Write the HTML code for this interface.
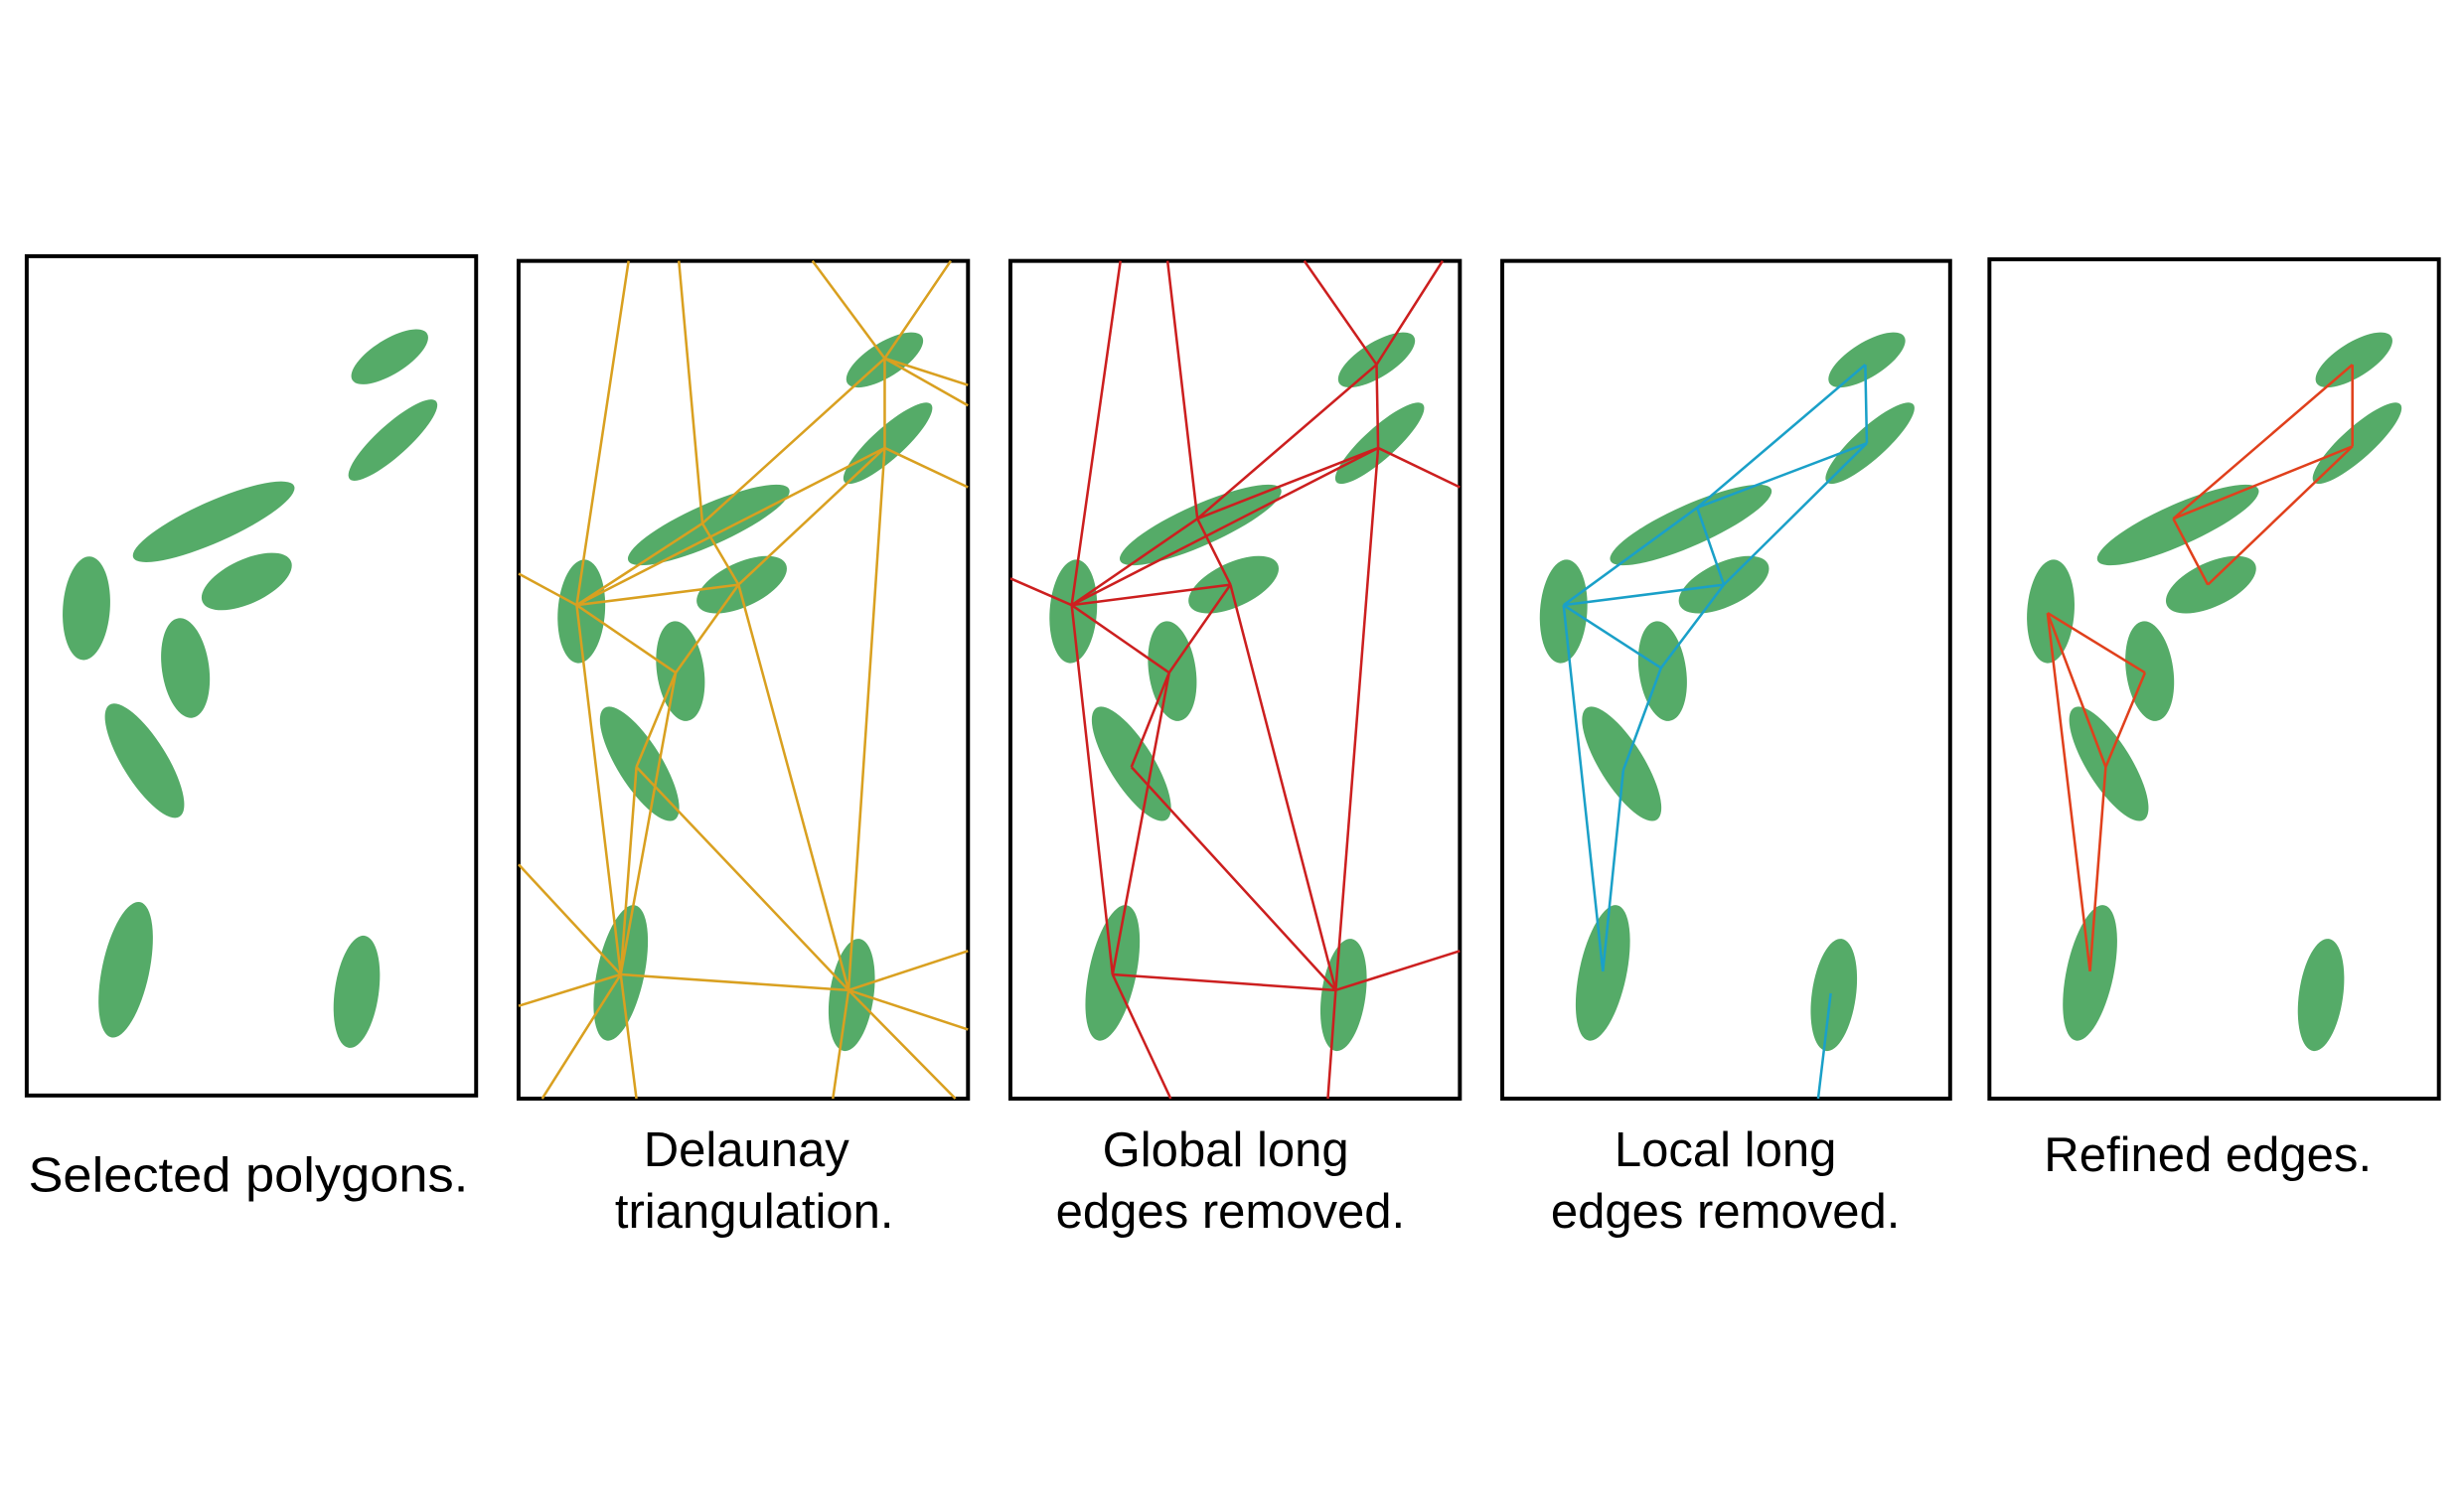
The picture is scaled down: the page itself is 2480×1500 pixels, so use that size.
<!DOCTYPE html>
<html><head><meta charset="utf-8"><style>
html,body{margin:0;padding:0;background:#fff;}
svg{display:block;}
</style></head><body>
<svg width="2480" height="1500" viewBox="0 0 1568 948" preserveAspectRatio="none" xmlns="http://www.w3.org/2000/svg">
<defs>
<g id="blobs" fill="#55ab68">
  <ellipse cx="0" cy="0" rx="28" ry="11" transform="translate(248,227) rotate(-32)"/>
  <ellipse cx="0" cy="0" rx="37" ry="10" transform="translate(250,280) rotate(-42)"/>
  <ellipse cx="0" cy="0" rx="56" ry="13" transform="translate(136,332) rotate(-24)"/>
  <ellipse cx="0" cy="0" rx="15" ry="33" transform="translate(55,387) rotate(4)"/>
  <ellipse cx="0" cy="0" rx="31" ry="14" transform="translate(157,370) rotate(-25)"/>
  <ellipse cx="0" cy="0" rx="15" ry="32" transform="translate(118,425) rotate(-8)"/>
  <ellipse cx="0" cy="0" rx="14" ry="42" transform="translate(92,484) rotate(-32)"/>
  <ellipse cx="0" cy="0" rx="15" ry="44" transform="translate(80,617) rotate(12)"/>
  <ellipse cx="0" cy="0" rx="14" ry="36" transform="translate(227,631) rotate(8)"/>
</g>
</defs>
<g fill="none" stroke="#000" stroke-width="2.5">
  <rect x="17" y="163" width="286" height="534"/>
  <rect x="330" y="166" width="286" height="533"/>
  <rect x="643" y="166" width="286" height="533"/>
  <rect x="956" y="166" width="285" height="533"/>
  <rect x="1266" y="165" width="286" height="534"/>
</g>
<use href="#blobs"/>
<use href="#blobs" transform="translate(315,2)"/>
<use href="#blobs" transform="translate(628,2)"/>
<use href="#blobs" transform="translate(940,2)"/>
<use href="#blobs" transform="translate(1250,2)"/>

<g stroke="#d9a020" stroke-width="1.6" fill="none">
<path d="M400,166L367,385 M432,166L447,333 M517,166L563,228 M605,166L563,228 M563,228L616,245 M563,228L616,258
M563,228L563,285 M563,228L447,333 M367,385L563,285 M470,372L563,285 M563,285L616,310 M563,285L540,630
M367,385L447,333 M367,385L470,372 M330,365L367,385 M367,385L430,428 M367,385L395,620 M447,333L470,372
M470,372L430,428 M470,372L540,630 M430,428L405,488 M430,428L395,620 M405,488L540,630 M405,488L395,620
M395,620L540,630 M395,620L330,550 M395,620L330,640 M395,620L345,699 M395,620L405,699
M540,630L616,605 M540,630L616,655 M540,630L608,699 M540,630L530,699"/>
</g>
<g stroke="#cc1f1f" stroke-width="1.6" fill="none">
<path d="M713,166L682,385 M743,166L762,330 M830,166L876,232 M918,166L876,232 M876,232L877,285 M876,232L762,330
M762,330L877,285 M682,385L877,285 M877,285L929,310 M877,285L850,630 M682,385L762,330 M682,385L783,372
M643,368L682,385 M682,385L744,428 M682,385L708,620 M762,330L783,372 M783,372L744,428 M783,372L850,630
M744,428L720,488 M744,428L708,620 M720,488L850,630 M708,620L850,630 M708,620L745,699 M850,630L929,605 M850,630L845,699"/>
</g>
<g stroke="#1aa0c8" stroke-width="1.6" fill="none">
<path d="M1187,232L1188,282 M1187,232L1080,323 M1188,282L1080,323 M1188,282L1097,372 M1080,323L1097,372
M1080,323L995,385 M995,385L1097,372 M995,385L1057,425 M1097,372L1057,425 M1057,425L1033,490 M1033,490L1020,618
M995,385L1020,618 M1165,632L1157,699"/>
</g>
<g stroke="#e0401c" stroke-width="1.6" fill="none">
<path d="M1497,232L1497,284 M1497,232L1383,330 M1383,330L1497,284 M1383,330L1405,372 M1405,372L1497,284
M1303,390L1365,428 M1365,428L1340,488 M1303,390L1340,488 M1340,488L1330,618 M1303,390L1330,618"/>
</g>

<g font-family="Liberation Sans, sans-serif" font-size="31" fill="#000" text-anchor="middle">
  <text x="158" y="758" textLength="280" lengthAdjust="spacingAndGlyphs">Selected polygons.</text>
  <text x="475" y="742">Delaunay</text>
  <text x="480" y="781">triangulation.</text>
  <text x="780" y="742">Global long</text>
  <text x="783" y="781">edges removed.</text>
  <text x="1098" y="742">Local long</text>
  <text x="1098" y="781">edges removed.</text>
  <text x="1405" y="745">Refined edges.</text>
</g>
</svg>
</body></html>
